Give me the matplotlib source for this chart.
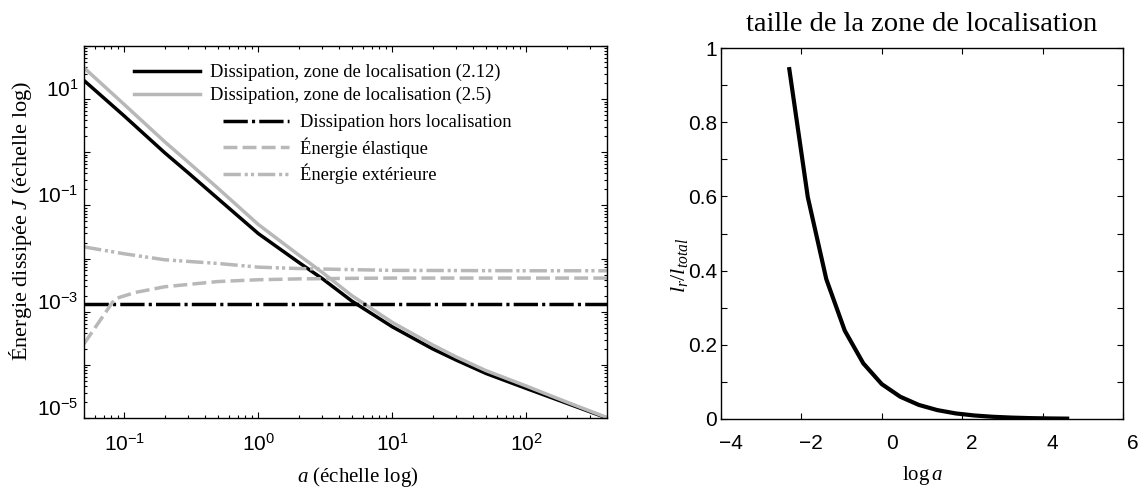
import math
import matplotlib
matplotlib.use("Agg")
import matplotlib.pyplot as plt
import matplotlib.transforms as mtransforms
from matplotlib.ticker import FixedLocator, LogLocator, NullFormatter, FuncFormatter, MultipleLocator

plt.rcParams['font.family'] = ['Liberation Sans', 'DejaVu Sans']
plt.rcParams['mathtext.fontset'] = 'custom'
plt.rcParams['mathtext.rm'] = 'Liberation Serif'
plt.rcParams['mathtext.it'] = 'Liberation Serif:italic'
plt.rcParams['mathtext.bf'] = 'Liberation Serif:bold'

SERIF = ['Liberation Serif', 'DejaVu Serif']
GRAY = '#b8b8b8'

# left panel: energies vs a
a_diss = [0.05, 0.1, 0.2, 0.3, 0.5, 1, 2, 3, 5, 10, 20, 30, 50, 100, 200, 400]
diss_212 = [22.4, 4.8, 0.98, 0.41, 0.134, 0.0295, 8.5e-3, 4.2e-3, 1.58e-3,
            5.2e-4, 2.0e-4, 1.23e-4, 6.9e-5, 3.6e-5, 1.9e-5, 1.0e-5]
diss_25 = [38.9, 7.9, 1.58, 0.65, 0.21, 0.0437, 0.0117, 5.5e-3, 2.0e-3,
           6.3e-4, 2.37e-4, 1.41e-4, 7.8e-5, 4.0e-5, 2.0e-5, 1.02e-5]

a_flat = [0.05, 400]
diss_hors = [1.4e-3, 1.4e-3]

a_elas = [0.05, 0.085, 0.12, 0.2, 0.5, 1, 2, 5, 10, 100, 400]
elastique = [2.5e-4, 1.75e-3, 2.3e-3, 2.95e-3, 3.7e-3, 4.0e-3, 4.15e-3,
             4.25e-3, 4.3e-3, 4.3e-3, 4.3e-3]

a_ext = [0.05, 0.1, 0.2, 0.5, 1, 2, 5, 10, 100, 400]
exterieure = [0.0166, 0.0123, 0.0095, 0.0081, 0.0069, 0.0065, 0.0062,
              0.0060, 0.0059, 0.0059]

# right panel: size of localisation zone
log_a = [-2.30, -1.84, -1.38, -0.92, -0.46, 0.0, 0.46, 0.92, 1.38, 1.84,
         2.30, 2.76, 3.22, 3.68, 4.14, 4.61]
lr_ratio = [0.943, 0.598, 0.377, 0.238, 0.150, 0.094, 0.060, 0.038, 0.024,
            0.015, 0.0095, 0.006, 0.0038, 0.0024, 0.0015, 0.001]

fig = plt.figure(figsize=(11.42, 4.88), dpi=100)
ax1 = fig.add_axes([0.0736, 0.1434, 0.4579, 0.7623])
ax2 = fig.add_axes([0.6313, 0.1414, 0.3521, 0.7602])

lw = 2.5
l1, = ax1.plot(a_diss, diss_212, color='black', lw=lw)
l2, = ax1.plot(a_diss, diss_25, color=GRAY, lw=lw)
l3, = ax1.plot(a_flat, diss_hors, color='black', lw=lw, dashes=(7, 1.2, 0.9, 1.2))
l4, = ax1.plot(a_elas, elastique, color=GRAY, lw=lw, dashes=(4, 1.5))
l5, = ax1.plot(a_ext, exterieure, color=GRAY, lw=lw,
               dashes=(5, 1.1, 0.9, 0.9, 0.9, 1.1))

ax1.set_xscale('log')
ax1.set_yscale('log')
ax1.set_xlim(0.05, 400)
ax1.set_ylim(1e-5, 1e2)

ax1.yaxis.set_major_locator(FixedLocator([10.0 ** k for k in range(-5, 3)]))


def odd_decades(v, pos):
    k = int(round(math.log10(v)))
    if k % 2 == 0:
        return ''
    return r'$\mathdefault{10^{%d}}$' % k


ax1.yaxis.set_major_formatter(FuncFormatter(odd_decades))
ax1.yaxis.set_minor_locator(LogLocator(base=10, subs=range(2, 10), numticks=20))
ax1.yaxis.set_minor_formatter(NullFormatter())
ax1.xaxis.set_minor_locator(LogLocator(base=10, subs=range(2, 10), numticks=20))
ax1.xaxis.set_minor_formatter(NullFormatter())

ax1.set_xlabel(r'$a$ (échelle log)', family=SERIF, fontsize=15)
ax1.xaxis.set_label_coords(0.523, -0.125)
ax1.set_ylabel(r'Énergie dissipée $J$ (échelle log)', family=SERIF, fontsize=16)
ax1.yaxis.set_label_coords(-0.095, 0.53)

leg1 = ax1.legend([l1, l2], ['Dissipation, zone de localisation (2.12)',
                             'Dissipation, zone de localisation (2.5)'],
                  loc='upper left', bbox_to_anchor=(0.095, 0.952), frameon=False,
                  prop={'family': SERIF, 'size': 13.3}, handlelength=3.6,
                  handletextpad=0.55, labelspacing=0.3, borderpad=0, borderaxespad=0)
ax1.add_artist(leg1)
ax1.legend([l3, l4, l5], ['Dissipation hors localisation', 'Énergie élastique',
                          'Énergie extérieure'],
           loc='upper left', bbox_to_anchor=(0.265, 0.816), frameon=False,
           prop={'family': SERIF, 'size': 13.3}, handlelength=3.6,
           handletextpad=0.6, labelspacing=0.32, borderpad=0, borderaxespad=0)

ax2.plot(log_a, lr_ratio, color='black', lw=3)
ax2.set_xlim(-4, 6)
ax2.set_ylim(0, 1)
ax2.xaxis.set_major_locator(MultipleLocator(2))
ax2.yaxis.set_major_locator(MultipleLocator(0.1))


def even_tenths(v, pos):
    n = int(round(v * 10))
    if n % 2:
        return ''
    return '%g' % (n / 10)


ax2.yaxis.set_major_formatter(FuncFormatter(even_tenths))
ax2.set_title('taille de la zone de localisation', family=SERIF, fontsize=20.5, pad=12)
ax2.set_xlabel(r'$\log a$', fontsize=15)
ax2.xaxis.set_label_coords(0.5, -0.12)
ax2.set_ylabel(r'$l_r/l_{total}$', fontsize=16)
ax2.yaxis.set_label_coords(-0.077, 0.415)

for ax in (ax1, ax2):
    ax.tick_params(which='both', direction='in', top=True, right=True,
                   labelsize=15, width=0.8, colors='black')
    ax.tick_params(which='major', length=4.5)
    ax.tick_params(which='minor', length=2.2)
    for s in ax.spines.values():
        s.set_linewidth(1.0)

ax1.tick_params(axis='x', which='major', pad=11)
ax1.tick_params(axis='y', which='major', pad=4)
ax2.tick_params(axis='x', which='major', pad=11)
ax2.tick_params(axis='y', which='major', pad=3)

# tick labels in the reference sit a little off their ticks
up = mtransforms.ScaledTranslation(0, 8 / 72, fig.dpi_scale_trans)
for t in ax1.yaxis.get_major_ticks():
    t.label1.set_transform(t.label1.get_transform() + up)
right = mtransforms.ScaledTranslation(7 / 72, 0, fig.dpi_scale_trans)
for t in ax2.xaxis.get_major_ticks():
    t.label1.set_transform(t.label1.get_transform() + right)

fig.savefig('out.png', dpi=100)
